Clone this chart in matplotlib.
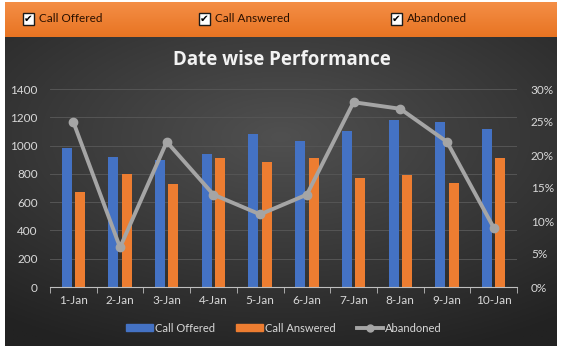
import numpy as np
import matplotlib
matplotlib.use('Agg')
import matplotlib.pyplot as plt
from matplotlib.patches import Rectangle
from matplotlib.lines import Line2D
from matplotlib.ticker import FuncFormatter

plt.rcParams['font.family'] = ['Lato', 'DejaVu Sans']

# ── Data ──────────────────────────────────────────────────────────────────────
dates          = ['1-Jan', '2-Jan', '3-Jan', '4-Jan', '5-Jan',
                  '6-Jan', '7-Jan', '8-Jan', '9-Jan', '10-Jan']
call_offered   = [980, 920, 900, 940, 1085, 1035, 1105, 1180, 1165, 1115]
call_answered  = [670, 800, 725, 915, 885, 910, 770, 790, 735, 910]
abandoned_pct  = [25, 6, 22, 14, 11, 14, 28, 27, 22, 9]
header_items   = ['Call Offered', 'Call Answered', 'Abandoned']

BLUE   = '#4472C4'
ORANGE = '#ED7D31'
GREY   = '#A5A5A5'
TXT    = '#D9D9D9'

W, H = 564, 351
fig = plt.figure(figsize=(W / 100, H / 100), dpi=100, facecolor='white')

# ── Dark background panel with radial shading ─────────────────────────────────
bg = fig.add_axes([5 / W, 1 - 346 / H, 552 / W, 310 / H])
yy, xx = np.mgrid[-1:1:200j, -1:1:300j]
r = np.sqrt((xx * 0.9) ** 2 + ((yy + 0.35) * 1.0) ** 2)
shade = np.clip(1 - r / 1.5, 0, 1)
c0 = np.array([0x22, 0x22, 0x22]) / 255
c1 = np.array([0x50, 0x50, 0x50]) / 255
img = c0 + (c1 - c0) * shade[..., None]
bg.imshow(img, aspect='auto', extent=[0, 1, 0, 1])
bg.set_axis_off()

# ── Orange header strip ───────────────────────────────────────────────────────
hd = fig.add_axes([5 / W, 1 - 37 / H, 552 / W, 35 / H])
grad = np.linspace(0, 1, 50)[:, None]
oc_top = np.array([0xF4, 0x8E, 0x46]) / 255
oc_bot = np.array([0xE8, 0x74, 0x22]) / 255
himg = oc_top + (oc_bot - oc_top) * grad[..., None]
hd.imshow(np.repeat(himg, 10, axis=1), aspect='auto', extent=[0, 552, 0, 35])
hd.set_xlim(0, 552)
hd.set_ylim(0, 35)
hd.set_axis_off()
for label, x in zip(header_items, [18, 194, 386]):
    hd.add_patch(Rectangle((x, 12), 11, 12, facecolor='white',
                           edgecolor='#1A1A1A', lw=1.0))
    hd.text(x + 5.5, 17.8, '✔', ha='center', va='center', fontsize=7.5,
            color='#000000', family='DejaVu Sans', fontweight='bold')
    hd.text(x + 16, 18, label, ha='left', va='center', fontsize=8.5,
            color='#2A1000')

# ── Main chart ────────────────────────────────────────────────────────────────
ax = fig.add_axes([50 / W, 1 - 287 / H, 467 / W, 198 / H])
ax.patch.set_alpha(0)
x = np.arange(len(dates))
bw = 0.215
off = 0.143

ax.bar(x - off, call_offered, bw, color=BLUE, zorder=2)
ax.bar(x + off, call_answered, bw, color=ORANGE, zorder=2)

ax.set_xlim(-0.5, len(dates) - 0.5)
ax.set_ylim(0, 1400)
ax.set_yticks(range(0, 1401, 200))
ax.set_xticks(x)
ax.set_xticklabels(dates)
ax.grid(axis='y', color='#555555', lw=0.7, zorder=0)
for s in ['top', 'right', 'left']:
    ax.spines[s].set_visible(False)
ax.spines['bottom'].set_color('#BFBFBF')
ax.tick_params(axis='y', length=0, colors=TXT, labelsize=8.5, pad=9)
ax.tick_params(axis='x', length=0, colors=TXT, labelsize=8.5, pad=6)
# category separator ticks
ax.set_xticks(np.arange(-0.5, len(dates), 1), minor=True)
ax.tick_params(axis='x', which='minor', length=4, color='#BFBFBF', direction='out')

ax2 = ax.twinx()
ax2.plot(x, abandoned_pct, color=GREY, lw=2.8, marker='o', ms=6,
         markerfacecolor=GREY, markeredgecolor=GREY, zorder=3)
ax2.set_ylim(0, 30)
ax2.set_yticks(range(0, 31, 5))
ax2.yaxis.set_major_formatter(FuncFormatter(lambda v, p: f'{v:.0f}%'))
for s in ax2.spines.values():
    s.set_visible(False)
ax2.tick_params(axis='y', length=0, colors=TXT, labelsize=8.5, pad=10)

fig.text(282 / W, 1 - 60 / H, 'Date wise Performance', ha='center', va='center',
         fontsize=13.5, fontweight='bold', color='#F2F2F2',
         family=['Open Sans', 'DejaVu Sans'])

# ── Legend ────────────────────────────────────────────────────────────────────
handles = [Rectangle((0, 0), 1, 1, color=BLUE),
           Rectangle((0, 0), 1, 1, color=ORANGE),
           Line2D([], [], color=GREY, lw=2.8, marker='o', ms=5)]
fig.legend(handles, ['Call Offered', 'Call Answered', 'Abandoned'],
           loc='center', bbox_to_anchor=(284 / W, 1 - 328 / H), ncol=3,
           frameon=False, fontsize=8, labelcolor=TXT,
           handlelength=2.4, handleheight=0.55, handletextpad=0.2,
           columnspacing=1.9)

fig.savefig('out.png', dpi=100, facecolor='white')
